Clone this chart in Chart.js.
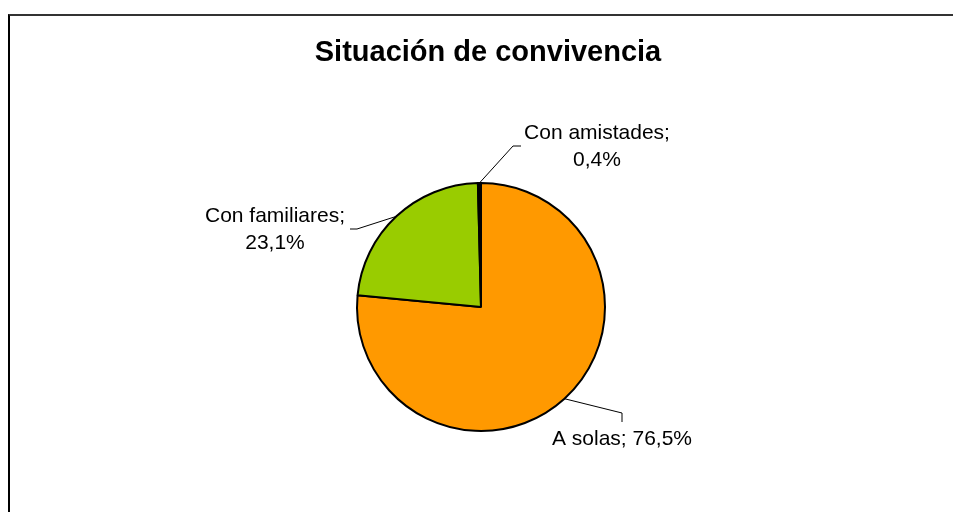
<!DOCTYPE html>
<html>
<head>
<meta charset="utf-8">
<script src="https://cdn.jsdelivr.net/npm/chart.js@4/dist/chart.umd.min.js"></script>
<style>
  html, body { margin: 0; padding: 0; background: #fff; overflow: hidden; }
  #frame { position: absolute; left: 8px; top: 14px; width: 1100px; height: 700px;
           border-top: 2px solid #333; border-left: 2px solid #000; }
  #wrap { position: absolute; left: 0; top: 0; width: 953px; height: 512px; }
</style>
</head>
<body>
<div id="frame"></div>
<div id="wrap"><canvas id="pie"></canvas></div>
<script>
const categories = ['A solas', 'Con familiares', 'Con amistades'];
const values = [76.5, 23.1, 0.4];
const valueLabels = ['76,5%', '23,1%', '0,4%'];
const sliceColors = ['#FF9900', '#99CC00', '#000000'];

// label placement: elbow point, line end, text lines and text centre (pixels)
const labelLayout = [
    { elbow: [622, 413], end: [622, 422], lines: ['A solas; 76,5%'], x: 622, y: 439 },
    { elbow: [357, 229], end: [350, 229], lines: ['Con familiares;', '23,1%'], x: 275, y: 216 },
    { elbow: [513, 146], end: [521, 146], lines: ['Con amistades;', '0,4%'], x: 597, y: 133 }
];

const calloutPlugin = {
    id: 'callouts',
    afterDatasetsDraw(chart) {
        const ctx = chart.ctx;
        const meta = chart.getDatasetMeta(0);
        ctx.save();
        // title
        ctx.fillStyle = '#000';
        ctx.font = 'bold 29px "Liberation Sans", Arial, sans-serif';
        ctx.textAlign = 'center';
        ctx.textBaseline = 'middle';
        ctx.fillText('Situación de convivencia', 488, 53);

        meta.data.forEach((arc, i) => {
            const p = arc.getProps(['x', 'y', 'startAngle', 'endAngle', 'outerRadius'], true);
            const mid = (p.startAngle + p.endAngle) / 2;
            const ex = p.x + Math.cos(mid) * p.outerRadius;
            const ey = p.y + Math.sin(mid) * p.outerRadius;
            const lay = labelLayout[i];
            ctx.strokeStyle = '#000';
            ctx.lineWidth = 1;
            ctx.beginPath();
            ctx.moveTo(ex, ey);
            ctx.lineTo(lay.elbow[0], lay.elbow[1]);
            ctx.lineTo(lay.end[0], lay.end[1]);
            ctx.stroke();

            ctx.font = '21px "Liberation Sans", Arial, sans-serif';
            ctx.textAlign = 'center';
            ctx.textBaseline = 'middle';
            lay.lines.forEach((t, k) => ctx.fillText(t, lay.x, lay.y + k * 27));
        });
        ctx.restore();
    }
};

new Chart(document.getElementById('pie'), {
    type: 'pie',
    data: {
        labels: categories,
        datasets: [{
            data: values,
            backgroundColor: sliceColors,
            borderColor: '#000',
            borderWidth: 2,
            radius: 124
        }]
    },
    options: {
        responsive: true,
        maintainAspectRatio: false,
        animation: false,
        layout: { padding: { left: 9, right: 0, top: 102, bottom: 0 } },
        plugins: { legend: { display: false }, tooltip: { enabled: false } }
    },
    plugins: [calloutPlugin]
});
</script>
</body>
</html>
